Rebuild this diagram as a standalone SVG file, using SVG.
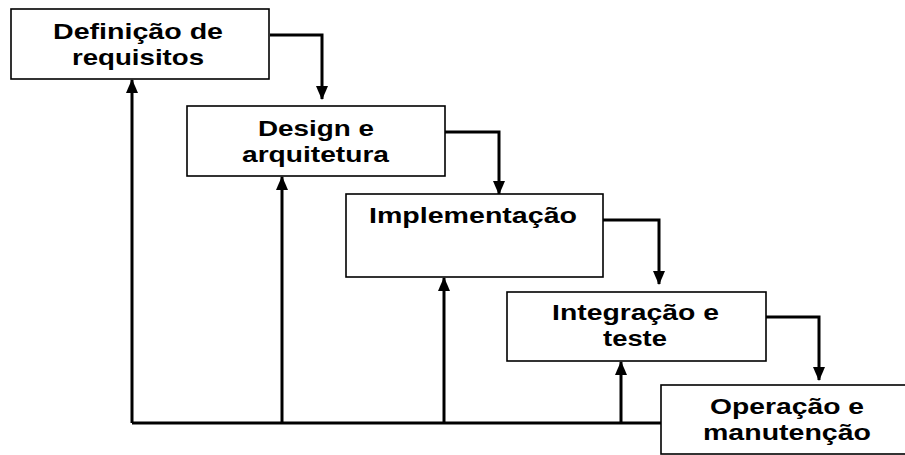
<svg xmlns="http://www.w3.org/2000/svg" width="905" height="455" viewBox="0 0 905 455">
<defs>
<style>
.box{fill:#fff;stroke:#000;stroke-width:1.6}
.t{font-family:"Liberation Sans",Arial,sans-serif;font-weight:bold;font-size:22px;fill:#000}
.c{fill:none;stroke:#000;stroke-width:3}
</style>
<marker id="ah" viewBox="0 0 14 12" refX="13" refY="6" markerWidth="14" markerHeight="12" markerUnits="userSpaceOnUse" orient="auto">
<path d="M0,0 L14,6 L0,12 Z" fill="#000"/>
</marker>
</defs>
<rect width="905" height="455" fill="#fff"/>
<g id="connectors">
<path class="c" d="M270,35 H322 V99" marker-end="url(#ah)"/>
<path class="c" d="M445,132 H499 V194" marker-end="url(#ah)"/>
<path class="c" d="M603,220 H659 V284" marker-end="url(#ah)"/>
<path class="c" d="M766,317 H819 V380" marker-end="url(#ah)"/>
<path class="c" d="M661,423 H132"/>
<path class="c" d="M132,423 V80" marker-end="url(#ah)"/>
<path class="c" d="M282,423 V177" marker-end="url(#ah)"/>
<path class="c" d="M444,423 V278" marker-end="url(#ah)"/>
<path class="c" d="M621,423 V362" marker-end="url(#ah)"/>
</g>
<g id="node1">
<rect class="box" x="11" y="9" width="258" height="70"/>
<text class="t" x="53" y="39" textLength="170" lengthAdjust="spacingAndGlyphs">Definição de</text>
<text class="t" x="72" y="65" textLength="132" lengthAdjust="spacingAndGlyphs">requisitos</text>
</g>
<g id="node2">
<rect class="box" x="187" y="106" width="258" height="70"/>
<text class="t" x="258" y="136" textLength="116" lengthAdjust="spacingAndGlyphs">Design e</text>
<text class="t" x="242" y="162" textLength="147" lengthAdjust="spacingAndGlyphs">arquitetura</text>
</g>
<g id="node3">
<rect class="box" x="346" y="194" width="257" height="83"/>
<text class="t" x="369" y="223" textLength="208" lengthAdjust="spacingAndGlyphs">Implementação</text>
</g>
<g id="node4">
<rect class="box" x="507" y="292" width="259" height="69"/>
<text class="t" x="552" y="320" textLength="167" lengthAdjust="spacingAndGlyphs">Integração e</text>
<text class="t" x="603" y="346" textLength="64" lengthAdjust="spacingAndGlyphs">teste</text>
</g>
<g id="node5">
<rect class="box" x="661" y="385" width="260" height="69"/>
<text class="t" x="710" y="414" textLength="154" lengthAdjust="spacingAndGlyphs">Operação e</text>
<text class="t" x="703" y="440" textLength="168" lengthAdjust="spacingAndGlyphs">manutenção</text>
</g>
</svg>
